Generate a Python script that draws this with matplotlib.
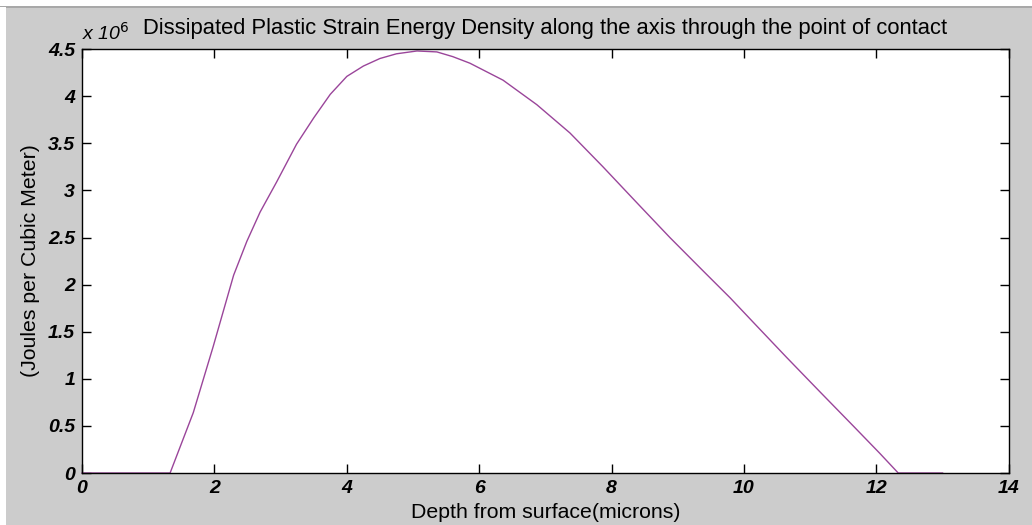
import matplotlib.pyplot as plt
from matplotlib.patches import Rectangle

plt.rcParams['font.family'] = ['Liberation Sans', 'DejaVu Sans']

# depth below the surface (microns) and dissipated plastic strain energy (J/m^3)
depth = [0.0, 0.6, 1.33, 1.68, 1.98, 2.29, 2.49, 2.69, 2.94, 3.24, 3.50, 3.75,
         4.00, 4.25, 4.50, 4.75, 5.06, 5.36, 5.60, 5.86, 6.36, 6.87, 7.37, 7.87,
         8.38, 8.88, 9.39, 9.79, 10.14, 10.64, 11.15, 11.65, 12.05, 12.33, 12.5,
         13.0]
energy = [0.0, 0.0, 0.0, 0.64e6, 1.34e6, 2.10e6, 2.46e6, 2.77e6, 3.09e6, 3.49e6,
          3.77e6, 4.02e6, 4.21e6, 4.32e6, 4.40e6, 4.45e6, 4.48e6, 4.47e6, 4.42e6,
          4.35e6, 4.17e6, 3.91e6, 3.61e6, 3.25e6, 2.87e6, 2.50e6, 2.14e6, 1.86e6,
          1.60e6, 1.23e6, 0.86e6, 0.50e6, 0.21e6, 0.0, 0.0, 0.0]

xticks = [0, 2, 4, 6, 8, 10, 12, 14]
yticks = [0, 0.5, 1, 1.5, 2, 2.5, 3, 3.5, 4, 4.5]
ytick_labels = ['0', '0.5', '1', '1.5', '2', '2.5', '3', '3.5', '4', '4.5']

fig = plt.figure(figsize=(10.32, 5.25), dpi=100, facecolor='#cccccc')
# white window border along the top and left edges
fig.patches.append(Rectangle((0, 0.987), 1, 0.013, transform=fig.transFigure,
                             facecolor='white', edgecolor='none'))
fig.patches.append(Rectangle((0, 0.985), 1, 0.003, transform=fig.transFigure,
                             facecolor='#a8a8a8', edgecolor='none'))
fig.patches.append(Rectangle((0, 0), 0.006, 0.987, transform=fig.transFigure,
                             facecolor='white', edgecolor='none'))

ax = fig.add_axes([0.0795, 0.099, 0.898, 0.8075])
ax.plot(depth, [e / 1e6 for e in energy], color='#9a459a', lw=1.0, clip_on=False)

ax.set_xlim(0, 14)
ax.set_ylim(0, 4.5)
ax.set_xticks(xticks)
ax.set_yticks(yticks)
ax.set_xticklabels([str(t) for t in xticks])
ax.set_yticklabels(ytick_labels)
ax.tick_params(direction='in', length=6.5, width=1, top=True, right=True,
               labelsize=14, pad=5)
for lab in ax.get_xticklabels() + ax.get_yticklabels():
    lab.set_fontweight('bold')
    lab.set_fontstyle('italic')
for s in ax.spines.values():
    s.set_linewidth(1)

ax.text(0, 1.012, r'x 10$^{6}$', transform=ax.transAxes, fontsize=14,
        style='italic', ha='left', va='bottom')
ax.set_title('Dissipated Plastic Strain Energy Density along the axis through the point of contact',
             fontsize=15.8, pad=11)
ax.set_xlabel('Depth from surface(microns)', fontsize=15.3, labelpad=4)
ax.set_ylabel('(Joules per Cubic Meter)', fontsize=15.3, labelpad=6)

fig.savefig('out.png', dpi=100, facecolor=fig.get_facecolor())
